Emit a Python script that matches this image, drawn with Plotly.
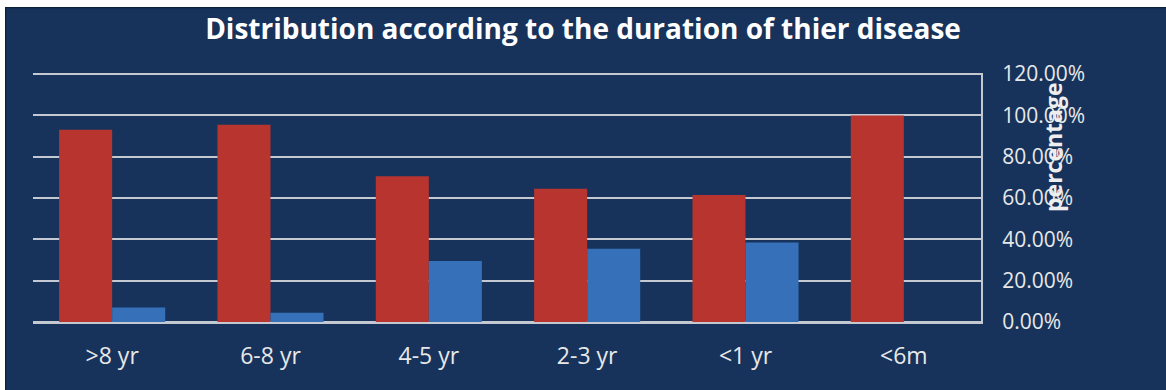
import plotly.graph_objects as go

categories = [">8 yr", "6-8 yr", "4-5 yr", "2-3 yr", "<1 yr", "<6m"]
series_red = [0.93, 0.955, 0.705, 0.645, 0.615, 1.00]
series_blue = [0.07, 0.045, 0.295, 0.355, 0.385, 0.0]
y_ticks = [0, 0.2, 0.4, 0.6, 0.8, 1.0, 1.2]
title_text = "Distribution according to the duration of thier disease"
axis_title = "percentage"

NAVY = "#17335b"
FONT = "Open Sans"

fig = go.Figure()
fig.add_trace(go.Bar(x=categories, y=series_red, name="red",
                     marker=dict(color="#b8352f", line=dict(width=0))))
fig.add_trace(go.Bar(x=categories, y=series_blue, name="blue",
                     marker=dict(color="#3670b9", line=dict(width=0))))

W, H = 1166, 390
L, R, T, B = 33, 183, 72, 68
pw, ph = W - L - R, H - T - B

def px_x(px):
    return (px - L) / pw

def px_yp(py):
    return (H - B - py) / ph

fig.update_layout(
    width=W, height=H,
    margin=dict(l=L, r=R, t=T, b=B, pad=0),
    paper_bgcolor=NAVY, plot_bgcolor=NAVY,
    barmode="group", bargap=0.33, bargroupgap=0,
    showlegend=False,
    title=dict(text=f"<b>{title_text}</b>", x=583 / W, xref="container", xanchor="center",
               y=1 - 29 / H, yref="container", yanchor="middle",
               font=dict(family=FONT, size=28, color="white")),
    xaxis=dict(showgrid=False, showline=False, zeroline=False,
               tickfont=dict(family=FONT, size=23, color="#e8e8e8"),
               ticks="", ticklabelstandoff=18),
    yaxis=dict(side="right", range=[0, 1.21], tickvals=y_ticks, tickformat=".2%",
               showgrid=True, gridcolor="#c4c8d0", gridwidth=2,
               zeroline=True, zerolinecolor="#c4c8d0", zerolinewidth=3,
               showline=False,
               ticks="outside", ticklen=14, tickcolor="rgba(0,0,0,0)",
               tickfont=dict(family=FONT, size=21, color="#e8e8e8")),
    font=dict(family=FONT),
)

# right-hand vertical axis line spanning 0 to 120%
fig.add_shape(type="line", xref="paper", yref="y", x0=px_x(982), x1=px_x(982),
              y0=0, y1=y_ticks[-1], line=dict(color="#c4c8d0", width=2))

fig.add_annotation(text=f"<b>{axis_title}</b>", textangle=-90,
                   xref="paper", yref="paper", x=px_x(1053), y=px_yp(147),
                   xanchor="center", yanchor="middle", showarrow=False,
                   font=dict(family=FONT, size=23, color="#eeeeee"))

# white page margins around the chart picture
fig.add_shape(type="rect", xref="paper", yref="paper", layer="above",
              x0=px_x(-5), x1=px_x(W + 5), y0=px_yp(7), y1=px_yp(-5),
              fillcolor="white", line=dict(width=0))
fig.add_shape(type="rect", xref="paper", yref="paper", layer="above",
              x0=px_x(-5), x1=px_x(5), y0=px_yp(H + 5), y1=px_yp(-5),
              fillcolor="white", line=dict(width=0))
fig.add_shape(type="rect", xref="paper", yref="paper", layer="below",
              x0=px_x(5.5), x1=px_x(W + 5), y0=px_yp(H + 5), y1=px_yp(7.5),
              fillcolor="rgba(0,0,0,0)", line=dict(width=1.5, color="#0c1e38"))

fig.write_html("out.html")
